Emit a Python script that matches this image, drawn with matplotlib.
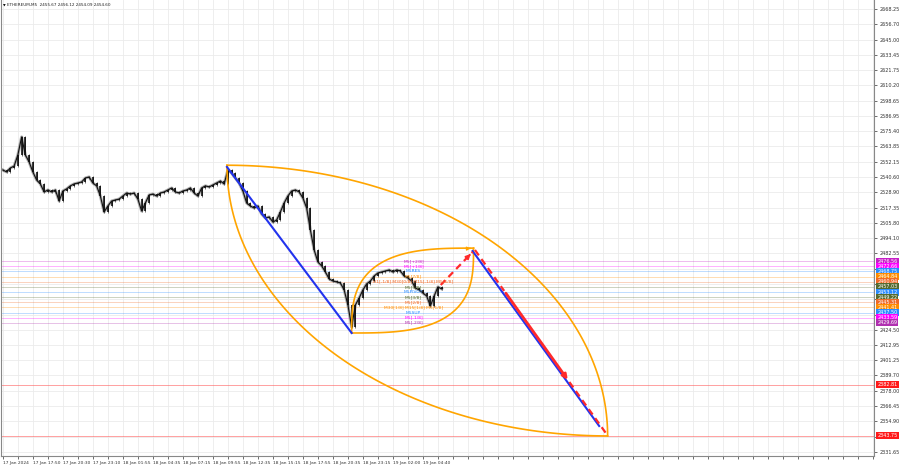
import numpy as np
import matplotlib
matplotlib.use("Agg")
import matplotlib.pyplot as plt
import matplotlib.transforms as mtransforms

# ETHEREUM M5 closes, one value every 4 bars
closes = [
    2545.9, 2544.4, 2547.4, 2548.9, 2557.3, 2571.0, 2557.3, 2552.0, 2544.4, 2538.3,
    2535.3, 2529.2, 2530.7, 2529.2, 2530.7, 2522.3, 2529.9, 2531.5, 2533.8, 2535.3,
    2536.0, 2536.8, 2539.8, 2540.6, 2536.0, 2533.8, 2526.1, 2514.0, 2518.5, 2522.3,
    2523.1, 2523.8, 2526.1, 2528.4, 2527.6, 2528.4, 2523.8, 2514.7, 2520.8, 2526.9,
    2527.6, 2526.1, 2528.4, 2529.2, 2530.7, 2532.2, 2529.2, 2528.4, 2529.9, 2530.7,
    2532.2, 2528.4, 2526.1, 2532.2, 2533.8, 2533.0, 2534.5, 2536.0, 2537.5, 2535.3,
    2545.9, 2543.6, 2539.8, 2536.0, 2529.9, 2520.8, 2518.5, 2517.0, 2518.5, 2512.4,
    2509.4, 2510.2, 2506.3, 2507.9, 2514.0, 2520.8, 2526.1, 2529.9, 2530.7, 2529.2,
    2524.6, 2517.0, 2500.3, 2485.1, 2476.0, 2473.0, 2468.4, 2463.1, 2461.5, 2460.8,
    2460.0, 2454.7, 2443.3, 2426.6, 2443.3, 2448.6, 2454.7, 2459.3, 2461.5, 2465.3,
    2467.6, 2468.4, 2469.1, 2469.9, 2468.4, 2469.9, 2469.1, 2465.3, 2463.8, 2461.5,
    2456.2, 2454.7, 2452.4, 2450.1, 2442.5, 2450.1, 2457.0, 2455.5,
]
bar_step = 4

# price axis labels (right side); some are hidden behind level boxes
y_ticks = [2668.25, 2656.70, 2645.00, 2633.45, 2621.75, 2610.20, 2598.65, 2586.95,
           2575.40, 2563.85, 2552.15, 2540.60, 2528.90, 2517.35, 2505.80, 2494.10,
           2482.55, 2470.85, 2459.30, 2447.60, 2436.05, 2424.50, 2412.95, 2401.25,
           2389.70, 2378.00, 2366.45, 2354.90, 2343.20, 2331.65]
hidden_ticks = [2470.85, 2459.30, 2447.60, 2436.05, 2343.20]

# time axis labels, one every 32 bars
x_labels = ["17 Jan 2024", "17 Jan 17:50", "17 Jan 20:30", "17 Jan 23:10",
            "18 Jan 01:55", "18 Jan 04:35", "18 Jan 07:15", "18 Jan 09:55",
            "18 Jan 12:35", "18 Jan 15:15", "18 Jan 17:55", "18 Jan 20:35",
            "18 Jan 23:15", "19 Jan 02:00", "19 Jan 04:40"]
label_every = 32

# Murrey math levels
mm_levels = [2476.56, 2472.66, 2468.75, 2464.84, 2460.94, 2457.03, 2453.12,
             2449.22, 2445.31, 2441.41, 2437.50, 2433.59, 2429.69]
mm_names = ["M5[+2/8]", "M5[+1/8]", "M5RES", "M5[7/8]",
            "H1[-1/8] M30[0/8] M15[-1/8] M5[6/8]", "M5[5/8]", "M5PIVOT",
            "M5[3/8]", "M5[2/8]", "M30[1/8] M15[1/8] M5[1/8]", "M5SUP",
            "M5[-1/8]", "M5[-2/8]"]
mm_colors = ["#c71fc7", "#ff00ff", "#2a8cff", "#ff8c00", "#f06a28", "#556b2f",
             "#2a8cff", "#556b2f", "#f06a28", "#ff8c00", "#2a8cff", "#ff00ff",
             "#b030b0"]

# target levels (red)
red_levels = [2382.81, 2343.75]

# pattern anchor points (bar index, price)
pt_a = (239, 2549.5)     # pattern start high
pt_b = (372, 2422.0)     # low
pt_c = (502, 2486.5)     # projected top
pt_d = (645, 2343.75)    # projected target
blue_1 = [(239, 2548.2), (372, 2422.0)]
blue_2 = [(501, 2484.3), (636, 2351.3)]
red_up = [(467, 2458.5), (501, 2483.6)]
red_down = [(503.5, 2485.1), (645.3, 2343.75)]
label_bar = 438

x_min, x_max = -2.1, 929
y_min, y_max = 2328.5, 2675.1


def lens_arc(p, q, corner, n, num=120):
    """Quarter super-ellipse from p to q bulging toward corner"""
    p, q, k = np.array(p, float), np.array(q, float), np.array(corner, float)
    o = p + q - k
    t = np.linspace(0, np.pi / 2, num)
    c = np.cos(t) ** (2.0 / n)
    s = np.sin(t) ** (2.0 / n)
    pts = o + np.outer(c, p - o) + np.outer(s, q - o)
    return pts[:, 0], pts[:, 1]


fig = plt.figure(figsize=(9, 4.68), dpi=100)
fig.patch.set_facecolor("white")
ax = fig.add_axes([0.001, 1 - 456 / 468, 873 / 900, 456 / 468])
ax.set_xlim(x_min, x_max)
ax.set_ylim(y_min, y_max)

# grid
grid_color = "#ebebeb"
for xv in np.arange(0, x_max, 16):
    ax.axvline(xv, color=grid_color, lw=0.6, zorder=0)
for yv in y_ticks:
    ax.axhline(yv, color=grid_color, lw=0.6, zorder=0)

# level lines
for lv, col in zip(mm_levels, mm_colors):
    ax.axhline(lv, color=col, lw=0.6, alpha=0.35, zorder=1)
for lv in red_levels:
    ax.axhline(lv, color="#ff6060", lw=0.7, alpha=0.6, zorder=1)

# candles
xs = np.arange(len(closes)) * bar_step
opens = [closes[0]] + closes[:-1]
ax.plot(xs, closes, color="#9a9a9a", lw=2.2, alpha=0.8, zorder=2)
for x, o, c in zip(xs, opens, closes):
    lo, hi = min(o, c), max(o, c)
    ax.vlines(x, lo - 0.8, hi + 0.8, color="#555555", lw=0.6, zorder=3)
    ax.vlines(x, lo, hi, color="black", lw=1.1, zorder=3)
ax.plot(xs, closes, color="#111111", lw=0.8, zorder=3)

# orange lens shapes
orange = "#ffa500"
for p, q, k, n in [(pt_a, pt_d, (pt_d[0], pt_a[1]), 2),
                   (pt_a, pt_d, (pt_a[0], pt_d[1]), 2),
                   (pt_b, pt_c, (pt_b[0], pt_c[1]), 3),
                   (pt_b, pt_c, (pt_c[0], pt_b[1]), 3)]:
    ax.plot(*lens_arc(p, q, k, n), color=orange, lw=1.2, zorder=4)
ax.annotate("", xy=pt_c, xytext=(pt_c[0] - 6, pt_c[1] - 0.3),
            arrowprops=dict(arrowstyle="-|>", color=orange, lw=1.0,
                            mutation_scale=5), zorder=4)

# blue lines
for seg in (blue_1, blue_2):
    ax.plot([seg[0][0], seg[1][0]], [seg[0][1], seg[1][1]],
            color="#2233ee", lw=1.5, zorder=5)

# red arrows
red = "#ff2a2a"
(ux0, uy0), (ux1, uy1) = red_up
ax.plot([ux0, ux1], [uy0, uy1], color=red, lw=1.6, ls=(0, (3, 2)), zorder=6)
ax.annotate("", xy=(ux1, uy1), xytext=(ux1 - 0.15 * (ux1 - ux0), uy1 - 0.15 * (uy1 - uy0)),
            arrowprops=dict(arrowstyle="-|>", color=red, lw=1.2, mutation_scale=7), zorder=6)

(dx0, dy0), (dx1, dy1) = red_down


def along(f):
    return dx0 + f * (dx1 - dx0), dy0 + f * (dy1 - dy0)


s0, s1 = along(0.22), along(0.71)
ax.plot([dx0, s0[0]], [dy0, s0[1]], color=red, lw=1.6, ls=(0, (3, 2)), zorder=6)
ax.plot([s1[0], dx1], [s1[1], dy1], color=red, lw=1.6, ls=(0, (3, 2)), zorder=6)
ax.annotate("", xy=s1, xytext=s0,
            arrowprops=dict(arrowstyle="-|>", color=red, lw=2.0, mutation_scale=7), zorder=6)

# level labels in chart
for lv, name, col in zip(mm_levels, mm_names, mm_colors):
    ax.text(label_bar, lv, name, color=col, fontsize=3.2, ha="center", va="center", zorder=7)

# axes styling
ax.spines["top"].set_visible(False)
for side in ("left", "right", "bottom"):
    ax.spines[side].set_color("#888888")
    ax.spines[side].set_linewidth(0.8)

ax.yaxis.tick_right()
ax.set_yticks(y_ticks)
ax.set_yticklabels(["" if v in hidden_ticks else f"{v:.2f}" for v in y_ticks])
ax.tick_params(axis="y", labelsize=3.5, length=2, width=0.5, pad=2, colors="#333333")

ax.set_xticks(np.arange(len(x_labels)) * label_every)
ax.set_xticklabels(x_labels, ha="left")
ax.set_xticks(np.arange(0, x_max, 16), minor=True)
ax.tick_params(axis="x", which="both", labelsize=3.2, length=2, width=0.5, pad=1.5,
               colors="#333333")

# coloured price boxes on the right axis
trans = mtransforms.blended_transform_factory(ax.transAxes, ax.transData)
for lv, col in zip(mm_levels, mm_colors):
    ax.text(1.004, lv, f"{lv:.2f}", transform=trans, fontsize=3.5, color="white",
            ha="left", va="center", clip_on=False, zorder=8,
            bbox=dict(boxstyle="square,pad=0.2", fc=col, ec="none"))
for lv in red_levels:
    ax.text(1.004, lv, f"{lv:.2f}", transform=trans, fontsize=3.5, color="white",
            ha="left", va="center", clip_on=False, zorder=8,
            bbox=dict(boxstyle="square,pad=0.2", fc="#ff1a1a", ec="none"))

# header
ax.text(0.002, 0.993, "\u25bc", transform=ax.transAxes, fontsize=2.5, va="top", ha="left")
ax.text(0.007, 0.993, "ETHEREUM,M5  2455.67 2456.12 2454.09 2454.60",
        transform=ax.transAxes, fontsize=3.0, va="top", ha="left", color="#222222")

fig.savefig("out.png", dpi=100)
